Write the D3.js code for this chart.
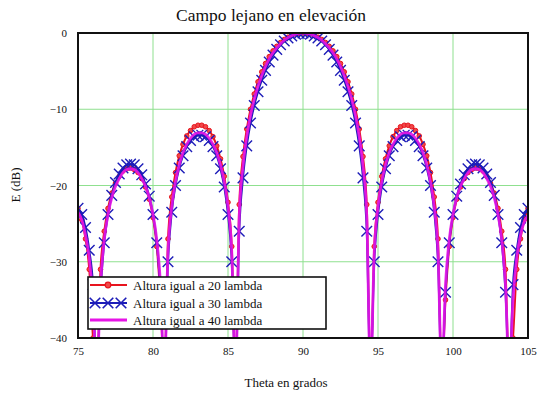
<!DOCTYPE html>
<html>
<head>
<meta charset="utf-8">
<script src="https://cdn.jsdelivr.net/npm/d3@7"></script>
<style>
  body { margin: 0; background: #fff; }
  text { font-family: "Liberation Serif", "DejaVu Serif", serif; fill: #111; }
</style>
</head>
<body>
<div id="chart"></div>
<script>
const dimension = {
  width: 537,
  height: 396,
  margin: { top: 33, right: 9, bottom: 58, left: 78 }
};

// muestras de theta (grados), paso 0.25
const theta = d3.range(75, 105.001, 0.25);

// Altura igual a 20 lambda
const e20 = [
  -23, -24.5, -27, -31, -40, -45,
  -31, -26, -23, -21, -19.7, -18.8, -18.1, -17.8, -17.7, -17.9, -18.3, -19.1, -20.2, -21.8, -24.2, -28, -35, -45,
  -27, -21.5, -18.3, -16.1, -14.6, -13.5, -12.8, -12.3, -12.1, -12.1, -12.3, -12.8, -13.6, -14.8, -16.5, -18.8, -22.2, -28, -45,
  -22.5, -16.2, -12.6, -10, -8, -6.4, -5.1, -4, -3.1, -2.35, -1.75, -1.25, -0.85, -0.55, -0.3, -0.13, -0.03, 0,
  -0.03, -0.13, -0.3, -0.55, -0.85, -1.25, -1.75, -2.35, -3.1, -4, -5.1, -6.4, -8, -10, -12.6, -16.2, -22.5, -45,
  -28, -22.2, -18.8, -16.5, -14.8, -13.6, -12.8, -12.3, -12.1, -12.1, -12.3, -12.8, -13.5, -14.6, -16.1, -18.3, -21.5, -27, -45,
  -35, -28, -24.2, -21.8, -20.2, -19.1, -18.3, -17.9, -17.7, -17.8, -18.1, -18.8, -19.7, -21, -23, -26, -31, -45,
  -40, -31, -27, -24.5, -23
];

// Altura igual a 30 lambda
const e30 = [
  -23, -23.8, -25.5, -28.5, -33, -45,
  -34, -27.5, -23.8, -21.3, -19.6, -18.5, -17.7, -17.3, -17.2, -17.3, -17.8, -18.6, -19.8, -21.4, -23.8, -27.5, -34, -45,
  -30, -23.5, -20, -17.7, -16.1, -14.9, -14.1, -13.6, -13.4, -13.4, -13.6, -14.1, -14.9, -16.1, -17.8, -20.2, -23.8, -30, -45,
  -26, -19, -14.8, -11.8, -9.5, -7.7, -6.2, -4.9, -3.8, -2.9, -2.15, -1.55, -1.05, -0.66, -0.38, -0.17, -0.05, 0,
  -0.05, -0.17, -0.38, -0.66, -1.05, -1.55, -2.15, -2.9, -3.8, -4.9, -6.2, -7.7, -9.5, -11.8, -14.8, -19, -26, -45,
  -30, -23.8, -20.2, -17.8, -16.1, -14.9, -14.1, -13.6, -13.4, -13.4, -13.6, -14.1, -14.9, -16.1, -17.7, -20, -23.5, -30, -45,
  -34, -27.5, -23.8, -21.4, -19.8, -18.6, -17.8, -17.3, -17.2, -17.3, -17.7, -18.5, -19.6, -21.3, -23.8, -27.5, -34, -45,
  -33, -28.5, -25.5, -23.8, -23
];

// Altura igual a 40 lambda
const e40 = [
  -23.5, -24.5, -26.5, -29.5, -35, -45,
  -33, -27.1, -23.8, -21.6, -20.1, -19.1, -18.3, -17.9, -17.8, -17.9, -18.3, -19.1, -20.1, -21.6, -23.8, -27.1, -33, -45,
  -28.7, -22.8, -19.5, -17.3, -15.7, -14.6, -13.8, -13.3, -13.1, -13.1, -13.3, -13.8, -14.6, -15.7, -17.3, -19.5, -22.8, -28.7, -45,
  -24, -17.5, -13.6, -10.8, -8.7, -7, -5.6, -4.4, -3.4, -2.6, -1.95, -1.4, -0.95, -0.6, -0.35, -0.15, -0.04, 0,
  -0.04, -0.15, -0.35, -0.6, -0.95, -1.4, -1.95, -2.6, -3.4, -4.4, -5.6, -7, -8.7, -10.8, -13.6, -17.5, -24, -45,
  -28.7, -22.8, -19.5, -17.3, -15.7, -14.6, -13.8, -13.3, -13.1, -13.1, -13.3, -13.8, -14.6, -15.7, -17.3, -19.5, -22.8, -28.7, -45,
  -33, -27.1, -23.8, -21.6, -20.1, -19.1, -18.3, -17.9, -17.8, -17.9, -18.3, -19.1, -20.1, -21.6, -23.8, -27.1, -33, -45,
  -35, -29.5, -26.5, -24.8, -24
];

const xTicks = [75, 80, 85, 90, 95, 100, 105];
const yTicks = [0, -10, -20, -30, -40];
const seriesNames = ['Altura igual a 20 lambda', 'Altura igual a 30 lambda', 'Altura igual a 40 lambda'];

const drawChart = () => {
  const svg = d3.select('#chart')
    .append('svg')
    .attr('width', dimension.width)
    .attr('height', dimension.height);

  const w = dimension.width - dimension.margin.left - dimension.margin.right;
  const h = dimension.height - dimension.margin.top - dimension.margin.bottom;

  const xScale = d3.scaleLinear().domain([75, 105]).range([0, w]);
  const yScale = d3.scaleLinear().domain([-40, 0]).range([h, 0]);

  // título
  svg.append('text')
    .attr('x', 271).attr('y', 21)
    .attr('text-anchor', 'middle')
    .attr('font-size', 17.5)
    .text('Campo lejano en elevación');

  const ctr = svg.append('g')
    .attr('transform', `translate(${dimension.margin.left}, ${dimension.margin.top})`);

  ctr.append('clipPath').attr('id', 'clip')
    .append('rect').attr('width', w).attr('height', h);

  // rejilla verde
  ctr.append('g')
    .selectAll('line.gx')
    .data(xTicks.slice(1, -1))
    .join('line')
    .attr('x1', d => xScale(d)).attr('x2', d => xScale(d))
    .attr('y1', 0).attr('y2', h)
    .attr('stroke', '#8fe08f').attr('stroke-width', 1);
  ctr.append('g')
    .selectAll('line.gy')
    .data(yTicks.slice(1, -1))
    .join('line')
    .attr('y1', d => yScale(d)).attr('y2', d => yScale(d))
    .attr('x1', 0).attr('x2', w)
    .attr('stroke', '#8fe08f').attr('stroke-width', 1);

  // ejes (solo etiquetas)
  const xAxis = ctr.append('g')
    .attr('transform', `translate(0, ${h})`)
    .call(d3.axisBottom(xScale).tickValues(xTicks).tickSize(0).tickPadding(9));
  const yAxis = ctr.append('g')
    .call(d3.axisLeft(yScale).tickValues(yTicks).tickSize(0).tickPadding(11)
      .tickFormat(d => d === 0 ? '0' : '\u2212' + Math.abs(d)));
  [xAxis, yAxis].forEach(a => {
    a.select('.domain').remove();
    a.selectAll('text')
      .attr('font-family', '"Liberation Serif", serif')
      .attr('font-size', 11)
      .attr('fill', '#444');
  });

  const plot = ctr.append('g').attr('clip-path', 'url(#clip)');
  const line = vals => d3.line()
    .x((d, i) => xScale(theta[i]))
    .y(d => yScale(d))
    .curve(d3.curveMonotoneX)(vals);

  const red = '#e8141e', blue = '#1c1cb8', mag = '#e614e6';

  // 20 lambda
  plot.append('path').attr('d', line(e20))
    .attr('fill', 'none').attr('stroke', red).attr('stroke-width', 2);
  plot.append('g').selectAll('circle')
    .data(e20)
    .join('circle')
    .attr('cx', (d, i) => xScale(theta[i]))
    .attr('cy', d => yScale(d))
    .attr('r', 2.3)
    .attr('fill', '#f04848')
    .attr('stroke', red).attr('stroke-width', 1);

  // 30 lambda
  plot.append('path').attr('d', line(e30))
    .attr('fill', 'none').attr('stroke', blue).attr('stroke-width', 2);
  const cross = d3.symbol().type(d3.symbolX).size(75);
  plot.append('g').selectAll('path')
    .data(e30)
    .join('path')
    .attr('d', cross)
    .attr('transform', (d, i) => `translate(${xScale(theta[i])}, ${yScale(d)})`)
    .attr('fill', 'none')
    .attr('stroke', blue).attr('stroke-width', 1.4);

  // 40 lambda
  plot.append('path').attr('d', line(e40))
    .attr('fill', 'none').attr('stroke', mag).attr('stroke-width', 2.8)
    .attr('stroke-opacity', 0.9);

  // marco
  ctr.append('rect')
    .attr('width', w).attr('height', h)
    .attr('fill', 'none').attr('stroke', '#111').attr('stroke-width', 2);

  // leyenda
  const lg = ctr.append('g').attr('transform', 'translate(10, 244)');
  lg.append('rect')
    .attr('width', 238).attr('height', 52)
    .attr('fill', '#fff').attr('stroke', '#111').attr('stroke-width', 1.6);
  const rows = [8, 26, 43];
  lg.selectAll('text')
    .data(seriesNames)
    .join('text')
    .attr('x', 45).attr('y', (d, i) => rows[i] + 4.5)
    .attr('font-size', 13)
    .text(d => d);
  [red, blue, mag].forEach((c, i) => {
    lg.append('line')
      .attr('x1', 2).attr('x2', 39)
      .attr('y1', rows[i]).attr('y2', rows[i])
      .attr('stroke', c).attr('stroke-width', i === 2 ? 2.8 : 2);
  });
  lg.append('circle')
    .attr('cx', 20).attr('cy', rows[0]).attr('r', 2.8)
    .attr('fill', '#f04848').attr('stroke', red).attr('stroke-width', 1.2);
  lg.selectAll('path.x')
    .data([7, 20, 33])
    .join('path')
    .attr('d', cross)
    .attr('transform', d => `translate(${d}, ${rows[1]})`)
    .attr('fill', 'none').attr('stroke', blue).attr('stroke-width', 1.6);

  // títulos de ejes
  svg.append('text')
    .attr('transform', 'translate(20, 185) rotate(-90)')
    .attr('text-anchor', 'middle')
    .attr('font-size', 13)
    .text('E (dB)');
  svg.append('text')
    .attr('x', 286).attr('y', 387)
    .attr('text-anchor', 'middle')
    .attr('font-size', 13)
    .text('Theta en grados');
};

drawChart();
</script>
</body>
</html>
